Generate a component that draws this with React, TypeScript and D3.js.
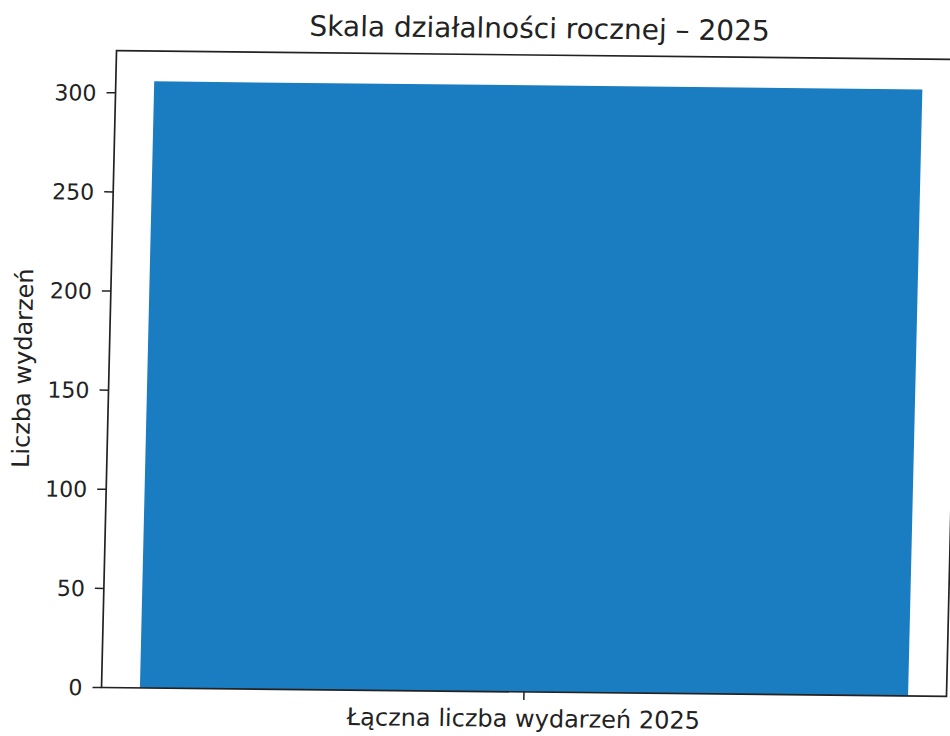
import React from 'react'
import * as d3 from 'd3'

const categories = ['Łączna liczba wydarzeń 2025']
const values = [306]
const yTicks = [0, 50, 100, 150, 200, 250, 300]

const title = 'Skala działalności rocznej – 2025'
const yLabel = 'Liczba wydarzeń'

const W = 950
const H = 736
const margin = { top: 55, right: -4, bottom: 44, left: 109 }
const barColor = '#1a7dc2'
const ink = '#222'
const font = 'DejaVu Sans, sans-serif'

// the reference is a slightly tilted scan
const tilt = 0.6
const shear = -0.75

export default function App() {
  const innerW = W - margin.left - margin.right
  const innerH = H - margin.top - margin.bottom
  const cx = margin.left + innerW / 2
  const cy = margin.top + innerH / 2

  // matplotlib: bar width 0.8, 5% margins on each side
  const x = d3.scaleLinear().domain([-0.44, categories.length - 1 + 0.44]).range([0, innerW])
  const y = d3.scaleLinear().domain([0, d3.max(values)! * 1.05]).range([innerH, 0])

  return (
    <svg width={W} height={H} style={{ position: 'absolute', left: 0, top: 0, background: '#fff' }}>
      <g transform={`translate(${cx},${cy}) rotate(${tilt}) skewX(${shear}) translate(${-cx},${-cy})`}>
        <g transform={`translate(${margin.left},${margin.top})`} fontFamily={font}>
          {values.map((v, i) => (
            <rect
              key={i}
              x={x(i - 0.4)}
              y={y(v)}
              width={x(i + 0.4) - x(i - 0.4)}
              height={y(0) - y(v)}
              fill={barColor}
            />
          ))}
          <rect x={0} y={0} width={innerW} height={innerH} fill="none" stroke={ink} strokeWidth={1.7} />

          {yTicks.map(t => (
            <g key={t} transform={`translate(0,${y(t)})`}>
              <line x1={-9} x2={0} stroke={ink} strokeWidth={1.5} />
              <text x={-19} dy="0.36em" textAnchor="end" fontSize={22} fill={ink}>{t}</text>
            </g>
          ))}

          {categories.map((c, i) => (
            <g key={c} transform={`translate(${x(i)},${innerH})`}>
              <line y1={0} y2={8} stroke={ink} strokeWidth={1.5} />
              <text y={35} textAnchor="middle" fontSize={24} fill={ink}>{c}</text>
            </g>
          ))}

          <text
            transform={`translate(${-78},${innerH / 2}) rotate(-90)`}
            textAnchor="middle"
            fontSize={24}
            fill={ink}
          >
            {yLabel}
          </text>

          <text x={innerW / 2} y={-17} textAnchor="middle" fontSize={28} fill={ink}>{title}</text>
        </g>
      </g>
    </svg>
  )
}
